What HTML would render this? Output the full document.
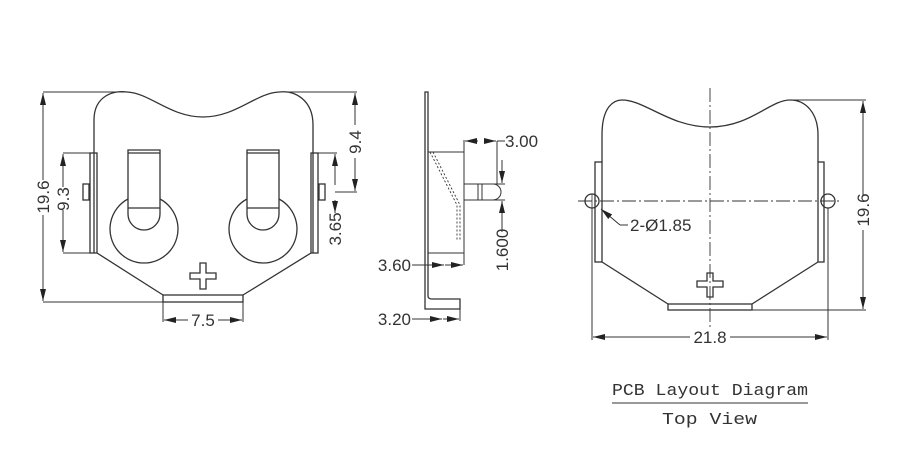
<!DOCTYPE html>
<html><head><style>body{margin:0;background:#fff}svg{display:block}</style></head><body>
<svg width="901" height="462" viewBox="0 0 901 462" xmlns="http://www.w3.org/2000/svg" font-family="Liberation Sans, sans-serif">
<defs>
<marker id="a" viewBox="0 0 12 6" refX="12" refY="3" markerWidth="12" markerHeight="6" orient="auto" markerUnits="userSpaceOnUse"><path d="M0,0L12,3L0,6z" fill="#222"/></marker>
</defs>
<g fill="none" stroke="#333" stroke-width="1.3">
<!-- LEFT VIEW -->
<path d="M94,253 L94,120 C94,95 115,90 127,92 C150,93 170,117 203,117 C236,117 256,93 279,92 C295,90 313,100 313,125 L313,253"/>
<rect x="90" y="153" width="7" height="100"/>
<rect x="311" y="153" width="7" height="100"/>
<rect x="83" y="184" width="6" height="16"/>
<rect x="319" y="184" width="6" height="16"/>
<path d="M97,253 L163,295 M311,253 L243,295"/>
<rect x="163" y="295" width="80" height="7"/>
<path d="M128,150 L160,150 L160,214 A16,16 0 0 1 128,214 Z M128,153 L160,153 M128,208 L160,208"/>
<path d="M128,199 A34,34 0 1 0 160,199"/>
<path d="M247,150 L279,150 L279,214 A16,16 0 0 1 247,214 Z M247,153 L279,153 M247,208 L279,208"/>
<path d="M247,199 A34,34 0 1 0 279,199"/>
<path d="M200,263 h6 v10 h10 v6 h-10 v10 h-6 v-10 h-10 v-6 h10 z"/>
<path d="M43,92 L127,92 M43,302 L163,302 M63,153 L90,153 M63,253 L90,253 M287,92 L357,92 M335,192 L357,192 M318,153 L337,153 M163,302 L163,322 M243,302 L243,322" stroke-width="1"/>
</g>
<g fill="none" stroke="#333" stroke-width="1" marker-end="url(#a)">
<path d="M43,180 L43,93"/><path d="M43,215 L43,301"/>
<path d="M63,187 L63,154"/><path d="M63,210 L63,252"/>
<path d="M355,125 L355,93"/><path d="M355,158 L355,191"/>
<path d="M335,185 L335,154"/><path d="M335,200 L335,213"/>
<path d="M188,320 L164,320"/><path d="M218,320 L242,320"/>
<!-- side -->
<path d="M478,141 L465,141"/><path d="M485,141 L496,141"/>
<path d="M502,160 L502,183"/><path d="M502,220 L502,201"/>
<path d="M412,265 L444,265"/><path d="M445,265 L463,265"/>
<path d="M412,319 L442,319"/><path d="M443,319 L459,319"/>
<!-- right -->
<path d="M863,195 L863,101"/><path d="M863,230 L863,309"/>
<path d="M690,337 L593,337"/><path d="M730,337 L827,337"/>
<path d="M620,225 L601,209"/>
</g>
<g fill="none" stroke="#333" stroke-width="1.3">
<!-- SIDE VIEW -->
<path d="M425,92 L428,92 L428,296 Q428,299 432,299 L460,299 L460,309 L425,309 Z"/>
<path d="M428,152 L464,152 L464,253 L428,253 M464,140 L464,265 M464,184 L493,184 A8,8 0 0 1 493,200 L464,200 M478,184 L478,200 M482,184 L482,200 M497,141 L497,184 M493,200 L505,200 M493,184 L505,184" stroke-width="1"/>
<path d="M430,152 L457,205 L457,240 M433,152 L460,205 L460,240" stroke-dasharray="2,2" stroke-width="0.9"/>
<path d="M497,141 L505,141 M502,220 L502,232 M460,309 L460,321" stroke-width="1"/>
<!-- RIGHT VIEW -->
<path d="M602,162 L602,135 C602,105 615,100 622,100 C645,100 670,127 710,127 C750,127 770,100 790,100 C805,100 818,112 818,135 L818,162"/>
<rect x="595" y="162" width="7" height="100"/>
<rect x="818" y="162" width="6" height="100"/>
<path d="M602,262 L668,304 M818,262 L752,304"/>
<rect x="668" y="304" width="84" height="6"/>
<path d="M707,273 h6 v8 h10 v6 h-10 v10 h-6 v-10 h-10 v-6 h10 z"/>
<path d="M710,88 L710,327 M578,201 L842,201" stroke-width="0.9" stroke-dasharray="14,3,2,3"/>
<circle cx="592" cy="201" r="7"/><circle cx="828" cy="201" r="7"/>
<path d="M592,194 L592,208 M824,194 L824,208" stroke-width="0.8"/>
<path d="M787,100 L866,100 M752,310 L866,310 M592,208 L592,340 M828,208 L828,340 M620,225 L628,225" stroke-width="1"/>
<path d="M612,403 L808,403" stroke-width="1"/>
</g>
<g fill="#333" font-size="17">
<text transform="translate(49,197) rotate(-90)" text-anchor="middle">19.6</text>
<text transform="translate(69,199) rotate(-90)" text-anchor="middle">9.3</text>
<text transform="translate(361,142) rotate(-90)" text-anchor="middle">9.4</text>
<text transform="translate(341,229) rotate(-90)" text-anchor="middle">3.65</text>
<text x="203" y="326" text-anchor="middle">7.5</text>
<text x="505" y="147">3.00</text>
<text transform="translate(508,250) rotate(-90)" text-anchor="middle">1.600</text>
<text x="411" y="271" text-anchor="end">3.60</text>
<text x="411" y="325" text-anchor="end">3.20</text>
<text x="630" y="231">2-Ø1.85</text>
<text x="710" y="343" text-anchor="middle">21.8</text>
<text transform="translate(869,210) rotate(-90)" text-anchor="middle">19.6</text>
</g>
<g fill="#333" font-family="Liberation Mono, monospace" font-size="17">
<text x="612" y="395" textLength="196" lengthAdjust="spacingAndGlyphs">PCB Layout Diagram</text>
<text x="662" y="424" textLength="95" lengthAdjust="spacingAndGlyphs">Top View</text>
</g>
</svg>
</body></html>
